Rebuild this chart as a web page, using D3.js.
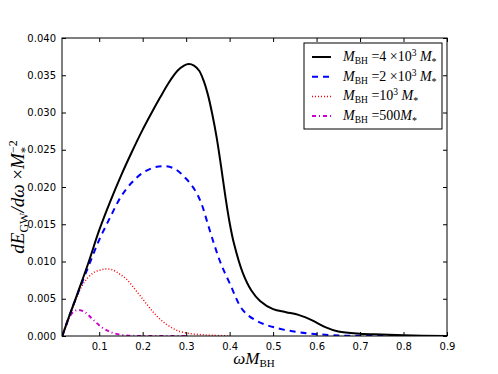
<!DOCTYPE html>
<html>
<head>
<meta charset="utf-8">
<script src="https://cdn.jsdelivr.net/npm/d3@7"></script>
<style>
  body { margin: 0; background: #fff; }
  svg text { fill: #000; }
</style>
</head>
<body>
<div id="chart"></div>
<script>
// series data (omega*M_BH, dE/domega)
var xBlack = [0.015,0.03,0.05,0.075,0.1,0.125,0.15,0.175,0.2,0.22,0.24,0.26,0.28,0.295,0.306,0.318,0.33,0.34,0.35,0.36,0.37,0.38,0.39,0.4,0.41,0.43,0.45,0.47,0.5,0.53,0.56,0.59,0.62,0.65,0.7,0.75,0.8,0.9];
var yBlack = [0,0.0025,0.0057,0.0098,0.0142,0.0180,0.0215,0.0247,0.0277,0.0299,0.0320,0.0340,0.0356,0.0363,0.0365,0.0363,0.0356,0.0343,0.0324,0.0298,0.0267,0.0229,0.0188,0.0152,0.0124,0.0085,0.0061,0.0047,0.0036,0.0032,0.0028,0.0021,0.0012,0.0006,0.0003,0.0002,0.0001,0];

var xBlue = [0.015,0.03,0.05,0.075,0.1,0.125,0.15,0.175,0.2,0.225,0.25,0.275,0.3,0.32,0.335,0.35,0.365,0.38,0.4,0.43,0.46,0.5,0.56,0.64,0.75,0.9];
var yBlue = [0,0.0025,0.0056,0.0093,0.0129,0.0159,0.0187,0.0206,0.0219,0.0226,0.0228,0.0224,0.0211,0.0196,0.0178,0.0150,0.0122,0.0097,0.0071,0.0035,0.0021,0.0012,0.0005,0.0001,0,0];

var xRed = [0.015,0.03,0.045,0.06,0.075,0.09,0.105,0.117,0.13,0.145,0.163,0.186,0.209,0.232,0.254,0.277,0.3,0.33,0.36,0.4];
var yRed = [0,0.0024,0.0047,0.0067,0.0079,0.0086,0.0089,0.0090,0.0089,0.0084,0.0076,0.0060,0.0043,0.0027,0.0016,0.0008,0.0004,0.0002,0.0001,0];

var xMag = [0.015,0.025,0.033,0.042,0.052,0.067,0.086,0.105,0.12,0.132,0.159,0.2,0.3];
var yMag = [0,0.0016,0.0027,0.0033,0.0035,0.0032,0.0022,0.0012,0.0007,0.0004,0.0001,0,0];

var xTicks = [0.1,0.2,0.3,0.4,0.5,0.6,0.7,0.8,0.9];
var yTicks = [0,0.005,0.01,0.015,0.02,0.025,0.03,0.035,0.04];

var series = [
  {x: xBlack, y: yBlack, color: "#000", dash: null, width: 2, label: ["4 ×10", "3"]},
  {x: xBlue, y: yBlue, color: "#0000ff", dash: "6,5", width: 2, label: ["2 ×10", "3"]},
  {x: xRed, y: yRed, color: "#ff0000", dash: "1,2", width: 1.5, label: ["10", "3"]},
  {x: xMag, y: yMag, color: "#cc00cc", dash: "4,3,1,3", width: 2, label: ["500", null]}
];

function drawChart() {
  var width = 498, height = 374;
  var pLeft = 62, pRight = 447, pTop = 38, pBottom = 336;

  var svg = d3.select("#chart").append("svg")
      .attr("width", width)
      .attr("height", height);

  var x = d3.scaleLinear().domain([0.0144, 0.9]).range([pLeft, pRight]);
  var y = d3.scaleLinear().domain([0, 0.04]).range([pBottom, pTop]);

  // curves
  var line = d3.line()
      .x(function(d) { return x(d[0]); })
      .y(function(d) { return y(d[1]); })
      .curve(d3.curveCatmullRom.alpha(0.5));

  svg.append("defs").append("clipPath").attr("id", "clip")
     .append("rect").attr("x", pLeft).attr("y", pTop).attr("width", pRight-pLeft).attr("height", pBottom-pTop);

  svg.append("g").attr("clip-path", "url(#clip)")
     .selectAll("path")
     .data(series.slice().reverse())
     .enter()
     .append("path")
     .attr("d", function(s) { return line(d3.zip(s.x, s.y)); })
     .attr("fill", "none")
     .attr("stroke", function(s) { return s.color; })
     .attr("stroke-width", function(s) { return s.width; })
     .attr("stroke-dasharray", function(s) { return s.dash; });

  // axes with inward ticks on all four sides
  var tickFont = "'DejaVu Sans', sans-serif";
  var fmt = d3.format(".3f");

  svg.append("g").attr("transform", "translate(0," + pBottom + ")")
     .call(d3.axisBottom(x).tickValues(xTicks).tickSizeInner(-4).tickSizeOuter(0).tickPadding(7).tickFormat(d3.format(".1f")))
     .call(function(g){ g.select(".domain").remove(); });
  svg.append("g").attr("transform", "translate(0," + pTop + ")")
     .call(d3.axisTop(x).tickValues(xTicks).tickSizeInner(-4).tickSizeOuter(0).tickFormat(""))
     .call(function(g){ g.select(".domain").remove(); });
  svg.append("g").attr("transform", "translate(" + pLeft + ",0)")
     .call(d3.axisLeft(y).tickValues(yTicks).tickSizeInner(-4).tickSizeOuter(0).tickPadding(6).tickFormat(fmt))
     .call(function(g){ g.select(".domain").remove(); });
  svg.append("g").attr("transform", "translate(" + pRight + ",0)")
     .call(d3.axisRight(y).tickValues(yTicks).tickSizeInner(-4).tickSizeOuter(0).tickFormat(""))
     .call(function(g){ g.select(".domain").remove(); });

  svg.selectAll(".tick text").attr("font-family", tickFont).attr("font-size", 10).style("fill", "#000");
  svg.selectAll(".tick line").attr("stroke", "#000");

  svg.append("rect")
     .attr("x", pLeft).attr("y", pTop)
     .attr("width", pRight-pLeft).attr("height", pBottom-pTop)
     .attr("fill", "none").attr("stroke", "#000").attr("stroke-width", 1);

  // math-ish text helper
  var mathFont = "'Liberation Serif', 'Times New Roman', serif";
  function part(t, txt, opt) {
    opt = opt || {};
    var s = t.append("tspan").text(txt);
    if (opt.italic) s.attr("font-style", "italic");
    if (opt.size) s.attr("font-size", opt.size);
    if (opt.dy) s.attr("dy", opt.dy);
    if (opt.dx) s.attr("dx", opt.dx);
    return s;
  }

  // x label
  var xl = svg.append("text").attr("x", 254).attr("y", 364)
     .attr("text-anchor", "middle").attr("font-family", mathFont).attr("font-size", 17);
  part(xl, "ωM", {italic: true});
  part(xl, "BH", {size: 11, dy: 3});

  // y label
  var yl = svg.append("text").attr("transform", "translate(24,197) rotate(-90)")
     .attr("text-anchor", "middle").attr("font-family", mathFont).attr("font-size", 19);
  part(yl, "dE", {italic: true});
  part(yl, "GW", {size: 12, dy: 4});
  part(yl, "/dω", {italic: true, dy: -4});
  part(yl, " ×", {});
  part(yl, "M", {italic: true});
  part(yl, "−2", {size: 12, dy: -7});
  part(yl, "*", {size: 13, dy: 12, dx: -13});

  // legend
  var lg = svg.append("g");
  lg.append("rect").attr("x", 304).attr("y", 43).attr("width", 138).attr("height", 86)
    .attr("fill", "#fff").attr("stroke", "#000").attr("stroke-width", 1);

  series.forEach(function(s, i) {
    var yy = 57 + i * 19.7;
    lg.append("line").attr("x1", 312).attr("x2", 331).attr("y1", yy).attr("y2", yy)
      .attr("stroke", s.color).attr("stroke-width", s.width).attr("stroke-dasharray", s.dash);
    var t = lg.append("text").attr("x", 343).attr("y", yy + 4)
      .attr("font-family", mathFont).attr("font-size", 14);
    part(t, "M", {italic: true});
    part(t, "BH", {size: 9.5, dy: 3});
    part(t, " =" + s.label[0], {dy: -3});
    if (s.label[1]) {
      part(t, s.label[1], {size: 9.5, dy: -5});
      part(t, " M", {italic: true, dy: 5});
    } else {
      part(t, "M", {italic: true});
    }
    part(t, "*", {size: 10, dy: 4});
  });
}

drawChart();
</script>
</body>
</html>
